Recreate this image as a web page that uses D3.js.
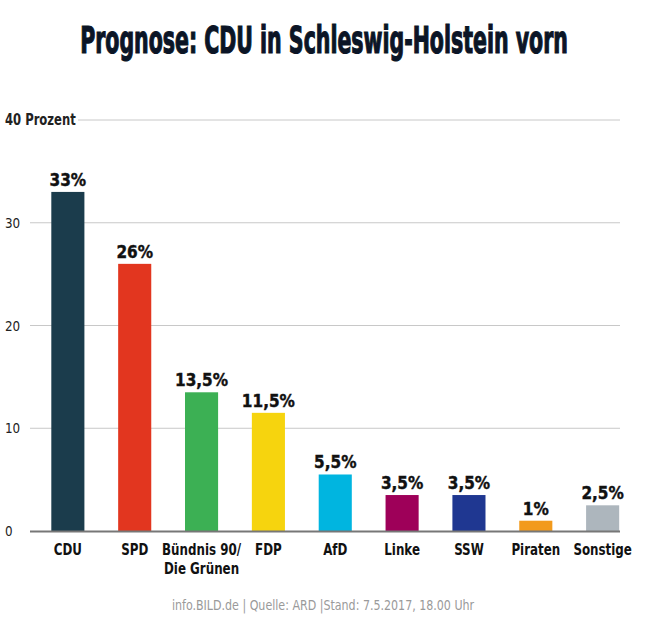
<!DOCTYPE html>
<html>
<head>
<meta charset="utf-8">
<script src="https://cdn.jsdelivr.net/npm/d3@7"></script>
<style>
body { margin:0; background:#fff; }
text { font-family: "DejaVu Sans Condensed", "Liberation Sans Narrow", sans-serif; }
</style>
</head>
<body>
<script>
// data
var parties = ["CDU", "SPD", "Bündnis 90/\nDie Grünen", "FDP", "AfD", "Linke", "SSW", "Piraten", "Sonstige"];
var values = [33, 26, 13.5, 11.5, 5.5, 3.5, 3.5, 1, 2.5];
var valueLabels = ["33%", "26%", "13,5%", "11,5%", "5,5%", "3,5%", "3,5%", "1%", "2,5%"];
var partyColors = ["#1b3c4c", "#e2361f", "#3cb054", "#f6d40e", "#00b5e0", "#9e0059", "#1f3791", "#f29a1c", "#adb6bd"];
var ticks = [0, 10, 20, 30, 40];

var width = 649, height = 620;
var narrow = 0.8;   // horizontal squeeze for the condensed labels

var svg = d3.select("body").append("svg")
    .attr("width", width)
    .attr("height", height);

var y = d3.scaleLinear().domain([0, 40]).range([531, 120]);
var x = d3.scaleBand().domain(parties).range([34.6, 635.9]).paddingInner(0.505).paddingOuter(0.25);

// title, squeezed to the reference width
var title = svg.append("text")
    .attr("text-anchor", "middle")
    .attr("font-size", 37).attr("font-weight", "bold")
    .attr("fill", "#0b1526")
    .attr("stroke", "#0b1526").attr("stroke-width", 1.2)
    .text("Prognose: CDU in Schleswig-Holstein vorn");
var tw = title.node().getComputedTextLength();
title.attr("transform", "translate(324,53) scale(" + (488 / tw) + ",1)");

// grid
svg.selectAll(".grid")
    .data(ticks.filter(function(d) { return d > 0; }))
  .enter().append("line")
    .attr("x1", function(d) { return d == 40 ? 78 : 30; })
    .attr("x2", 620)
    .attr("y1", function(d) { return y(d); })
    .attr("y2", function(d) { return y(d); })
    .attr("stroke", "#c8c8c8").attr("stroke-width", 1);

svg.selectAll(".tick")
    .data(ticks)
  .enter().append("text")
    .attr("transform", function(d) { return "translate(5," + (y(d) + 5) + ") scale(" + (d == 40 ? 0.86 : 0.95) + ",1)"; })
    .attr("font-size", function(d) { return d == 40 ? 15 : 14; })
    .attr("font-weight", function(d) { return d == 40 ? "bold" : "normal"; })
    .attr("fill", "#222")
    .text(function(d) { return d == 40 ? "40 Prozent" : d; });

// bars
svg.selectAll(".bar")
    .data(values)
  .enter().append("rect")
    .attr("x", function(d, i) { return x(parties[i]); })
    .attr("width", x.bandwidth())
    .attr("y", function(d) { return y(d); })
    .attr("height", function(d) { return y(0) - y(d); })
    .attr("fill", function(d, i) { return partyColors[i]; });

// baseline
svg.append("line")
    .attr("x1", 30).attr("x2", 620)
    .attr("y1", y(0) + 0.5).attr("y2", y(0) + 0.5)
    .attr("stroke", "#777").attr("stroke-width", 2);

// value labels
svg.selectAll(".val")
    .data(values)
  .enter().append("text")
    .attr("x", function(d, i) { return x(parties[i]) + x.bandwidth() / 2; })
    .attr("y", function(d) { return y(d) - 6; })
    .attr("text-anchor", "middle")
    .attr("font-family", "'DejaVu Sans', sans-serif")
    .attr("font-size", 17).attr("font-weight", "bold")
    .attr("fill", "#111")
    .attr("stroke", "#111").attr("stroke-width", 0.4)
    .text(function(d, i) { return valueLabels[i]; });

// category labels
var cat = svg.selectAll(".cat")
    .data(parties)
  .enter().append("text")
    .attr("transform", function(d) { return "translate(" + (x(d) + x.bandwidth() / 2) + ",555) scale(" + narrow + ",1)"; })
    .attr("text-anchor", "middle")
    .attr("font-size", 16.5).attr("font-weight", "bold")
    .attr("fill", "#111");
cat.selectAll("tspan")
    .data(function(d) { return d.split("\n"); })
  .enter().append("tspan")
    .attr("x", 0)
    .attr("y", function(d, i) { return i * 19; })
    .text(function(d) { return d; });

// footer
svg.append("text")
    .attr("transform", "translate(323,610) scale(0.88,1)")
    .attr("text-anchor", "middle")
    .attr("font-size", 14)
    .attr("fill", "#9a9a9a")
    .text("info.BILD.de | Quelle: ARD |Stand: 7.5.2017, 18.00 Uhr");
</script>
</body>
</html>
